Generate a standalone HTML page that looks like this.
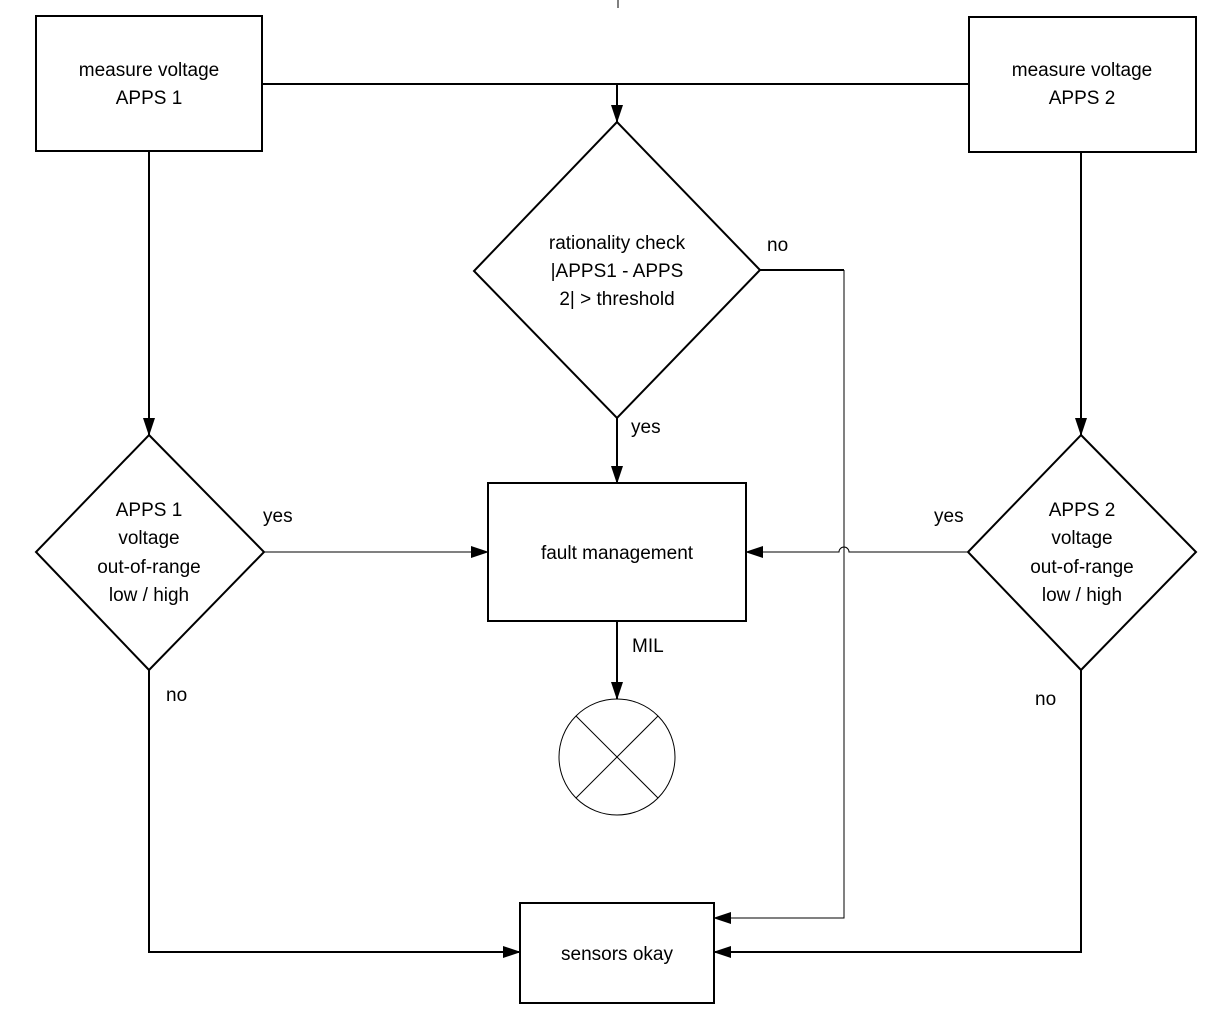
<!DOCTYPE html>
<html><head><meta charset="utf-8"><style>
html,body{margin:0;padding:0;background:#fff;}
svg{display:block;}
text{font-family:"Liberation Sans",Arial,sans-serif;font-size:19px;fill:#000;}
</style></head><body>
<svg width="1216" height="1020" viewBox="0 0 1216 1020" xmlns="http://www.w3.org/2000/svg">
<defs>
<marker id="ah" markerWidth="18" markerHeight="12" refX="17" refY="6" orient="auto" markerUnits="userSpaceOnUse">
<path d="M0,0 L18,6 L0,12 Z" fill="#000"/></marker>
</defs>
<g fill="none" stroke="#000">
<line x1="618" y1="0" x2="618" y2="8" stroke-width="1"/>
<!-- boxes -->
<rect x="36" y="16" width="226" height="135" stroke-width="2"/>
<rect x="969" y="17" width="227" height="135" stroke-width="2"/>
<rect x="488" y="483" width="258" height="138" stroke-width="2"/>
<rect x="520" y="903" width="194" height="100" stroke-width="2"/>
<!-- diamonds -->
<polygon points="149,435 264,552 149,670 36,552" stroke-width="2"/>
<polygon points="1081,435 1196,552 1081,670 968,552" stroke-width="2"/>
<polygon points="617,122 760,270 617,418 474,271" stroke-width="2"/>
<!-- circle -->
<circle cx="617" cy="757" r="58" stroke-width="1"/>
<line x1="576" y1="716" x2="658" y2="798" stroke-width="1"/>
<line x1="658" y1="716" x2="576" y2="798" stroke-width="1"/>
<!-- connectors -->
<line x1="262" y1="84" x2="969" y2="84" stroke-width="2"/>
<line x1="617" y1="84" x2="617" y2="122" stroke-width="2" marker-end="url(#ah)"/>
<line x1="149" y1="151" x2="149" y2="435" stroke-width="2" marker-end="url(#ah)"/>
<line x1="1081" y1="152" x2="1081" y2="435" stroke-width="2" marker-end="url(#ah)"/>
<line x1="617" y1="418" x2="617" y2="483" stroke-width="2" marker-end="url(#ah)"/>
<line x1="617" y1="621" x2="617" y2="699" stroke-width="2" marker-end="url(#ah)"/>
<line x1="264" y1="552" x2="488" y2="552" stroke-width="1" marker-end="url(#ah)"/>
<path d="M968,552 H849 A5,5 0 0 0 839,552 H746" stroke-width="1" marker-end="url(#ah)"/>
<path d="M760,270 H844" stroke-width="2"/>
<path d="M844,270 V918 H714" stroke-width="1" marker-end="url(#ah)"/>
<path d="M149,670 V952 H520" stroke-width="2" marker-end="url(#ah)"/>
<path d="M1081,670 V952 H714" stroke-width="2" marker-end="url(#ah)"/>
</g>
<g text-anchor="middle">
<text x="149" y="76">measure voltage</text>
<text x="149" y="104">APPS 1</text>
<text x="1082" y="76">measure voltage</text>
<text x="1082" y="104">APPS 2</text>
<text x="617" y="249">rationality check</text>
<text x="617" y="277">|APPS1 - APPS</text>
<text x="617" y="305">2| &gt; threshold</text>
<text x="149" y="516">APPS 1</text>
<text x="149" y="544">voltage</text>
<text x="149" y="573">out-of-range</text>
<text x="149" y="601">low / high</text>
<text x="1082" y="516">APPS 2</text>
<text x="1082" y="544">voltage</text>
<text x="1082" y="573">out-of-range</text>
<text x="1082" y="601">low / high</text>
<text x="617" y="559">fault management</text>
<text x="617" y="960">sensors okay</text>
</g>
<text x="767" y="251">no</text>
<text x="631" y="433">yes</text>
<text x="263" y="522">yes</text>
<text x="934" y="522">yes</text>
<text x="166" y="701">no</text>
<text x="1035" y="705">no</text>
<text x="632" y="652">MIL</text>
</svg>
</body></html>
